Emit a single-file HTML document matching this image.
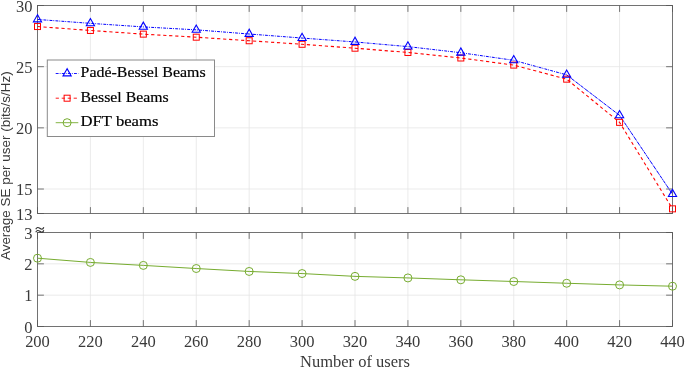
<!DOCTYPE html><html><head><meta charset="utf-8"><style>html,body{margin:0;padding:0;background:#fff;}svg{display:block;will-change:transform}</style></head><body>
<svg width="685" height="367" viewBox="0 0 685 367">
<rect width="685" height="367" fill="#fff"/>
<line x1="37.50" y1="5.5" x2="37.50" y2="213.5" stroke="#e6e6e6" stroke-width="0.8"/>
<line x1="90.42" y1="5.5" x2="90.42" y2="213.5" stroke="#e6e6e6" stroke-width="0.8"/>
<line x1="143.33" y1="5.5" x2="143.33" y2="213.5" stroke="#e6e6e6" stroke-width="0.8"/>
<line x1="196.25" y1="5.5" x2="196.25" y2="213.5" stroke="#e6e6e6" stroke-width="0.8"/>
<line x1="249.17" y1="5.5" x2="249.17" y2="213.5" stroke="#e6e6e6" stroke-width="0.8"/>
<line x1="302.08" y1="5.5" x2="302.08" y2="213.5" stroke="#e6e6e6" stroke-width="0.8"/>
<line x1="355.00" y1="5.5" x2="355.00" y2="213.5" stroke="#e6e6e6" stroke-width="0.8"/>
<line x1="407.92" y1="5.5" x2="407.92" y2="213.5" stroke="#e6e6e6" stroke-width="0.8"/>
<line x1="460.83" y1="5.5" x2="460.83" y2="213.5" stroke="#e6e6e6" stroke-width="0.8"/>
<line x1="513.75" y1="5.5" x2="513.75" y2="213.5" stroke="#e6e6e6" stroke-width="0.8"/>
<line x1="566.67" y1="5.5" x2="566.67" y2="213.5" stroke="#e6e6e6" stroke-width="0.8"/>
<line x1="619.58" y1="5.5" x2="619.58" y2="213.5" stroke="#e6e6e6" stroke-width="0.8"/>
<line x1="672.50" y1="5.5" x2="672.50" y2="213.5" stroke="#e6e6e6" stroke-width="0.8"/>
<line x1="37.5" y1="5.50" x2="672.5" y2="5.50" stroke="#e6e6e6" stroke-width="0.8"/>
<line x1="37.5" y1="66.68" x2="672.5" y2="66.68" stroke="#e6e6e6" stroke-width="0.8"/>
<line x1="37.5" y1="127.85" x2="672.5" y2="127.85" stroke="#e6e6e6" stroke-width="0.8"/>
<line x1="37.5" y1="189.03" x2="672.5" y2="189.03" stroke="#e6e6e6" stroke-width="0.8"/>
<line x1="37.5" y1="213.50" x2="672.5" y2="213.50" stroke="#e6e6e6" stroke-width="0.8"/>
<line x1="37.50" y1="232.5" x2="37.50" y2="326.5" stroke="#e6e6e6" stroke-width="0.8"/>
<line x1="90.42" y1="232.5" x2="90.42" y2="326.5" stroke="#e6e6e6" stroke-width="0.8"/>
<line x1="143.33" y1="232.5" x2="143.33" y2="326.5" stroke="#e6e6e6" stroke-width="0.8"/>
<line x1="196.25" y1="232.5" x2="196.25" y2="326.5" stroke="#e6e6e6" stroke-width="0.8"/>
<line x1="249.17" y1="232.5" x2="249.17" y2="326.5" stroke="#e6e6e6" stroke-width="0.8"/>
<line x1="302.08" y1="232.5" x2="302.08" y2="326.5" stroke="#e6e6e6" stroke-width="0.8"/>
<line x1="355.00" y1="232.5" x2="355.00" y2="326.5" stroke="#e6e6e6" stroke-width="0.8"/>
<line x1="407.92" y1="232.5" x2="407.92" y2="326.5" stroke="#e6e6e6" stroke-width="0.8"/>
<line x1="460.83" y1="232.5" x2="460.83" y2="326.5" stroke="#e6e6e6" stroke-width="0.8"/>
<line x1="513.75" y1="232.5" x2="513.75" y2="326.5" stroke="#e6e6e6" stroke-width="0.8"/>
<line x1="566.67" y1="232.5" x2="566.67" y2="326.5" stroke="#e6e6e6" stroke-width="0.8"/>
<line x1="619.58" y1="232.5" x2="619.58" y2="326.5" stroke="#e6e6e6" stroke-width="0.8"/>
<line x1="672.50" y1="232.5" x2="672.50" y2="326.5" stroke="#e6e6e6" stroke-width="0.8"/>
<line x1="37.5" y1="326.50" x2="672.5" y2="326.50" stroke="#e6e6e6" stroke-width="0.8"/>
<line x1="37.5" y1="295.17" x2="672.5" y2="295.17" stroke="#e6e6e6" stroke-width="0.8"/>
<line x1="37.5" y1="263.83" x2="672.5" y2="263.83" stroke="#e6e6e6" stroke-width="0.8"/>
<line x1="37.5" y1="232.50" x2="672.5" y2="232.50" stroke="#e6e6e6" stroke-width="0.8"/>
<line x1="37.50" y1="5.5" x2="37.50" y2="11.9" stroke="#555555" stroke-width="0.8"/>
<line x1="37.50" y1="213.5" x2="37.50" y2="207.1" stroke="#555555" stroke-width="0.8"/>
<line x1="90.42" y1="5.5" x2="90.42" y2="11.9" stroke="#555555" stroke-width="0.8"/>
<line x1="90.42" y1="213.5" x2="90.42" y2="207.1" stroke="#555555" stroke-width="0.8"/>
<line x1="143.33" y1="5.5" x2="143.33" y2="11.9" stroke="#555555" stroke-width="0.8"/>
<line x1="143.33" y1="213.5" x2="143.33" y2="207.1" stroke="#555555" stroke-width="0.8"/>
<line x1="196.25" y1="5.5" x2="196.25" y2="11.9" stroke="#555555" stroke-width="0.8"/>
<line x1="196.25" y1="213.5" x2="196.25" y2="207.1" stroke="#555555" stroke-width="0.8"/>
<line x1="249.17" y1="5.5" x2="249.17" y2="11.9" stroke="#555555" stroke-width="0.8"/>
<line x1="249.17" y1="213.5" x2="249.17" y2="207.1" stroke="#555555" stroke-width="0.8"/>
<line x1="302.08" y1="5.5" x2="302.08" y2="11.9" stroke="#555555" stroke-width="0.8"/>
<line x1="302.08" y1="213.5" x2="302.08" y2="207.1" stroke="#555555" stroke-width="0.8"/>
<line x1="355.00" y1="5.5" x2="355.00" y2="11.9" stroke="#555555" stroke-width="0.8"/>
<line x1="355.00" y1="213.5" x2="355.00" y2="207.1" stroke="#555555" stroke-width="0.8"/>
<line x1="407.92" y1="5.5" x2="407.92" y2="11.9" stroke="#555555" stroke-width="0.8"/>
<line x1="407.92" y1="213.5" x2="407.92" y2="207.1" stroke="#555555" stroke-width="0.8"/>
<line x1="460.83" y1="5.5" x2="460.83" y2="11.9" stroke="#555555" stroke-width="0.8"/>
<line x1="460.83" y1="213.5" x2="460.83" y2="207.1" stroke="#555555" stroke-width="0.8"/>
<line x1="513.75" y1="5.5" x2="513.75" y2="11.9" stroke="#555555" stroke-width="0.8"/>
<line x1="513.75" y1="213.5" x2="513.75" y2="207.1" stroke="#555555" stroke-width="0.8"/>
<line x1="566.67" y1="5.5" x2="566.67" y2="11.9" stroke="#555555" stroke-width="0.8"/>
<line x1="566.67" y1="213.5" x2="566.67" y2="207.1" stroke="#555555" stroke-width="0.8"/>
<line x1="619.58" y1="5.5" x2="619.58" y2="11.9" stroke="#555555" stroke-width="0.8"/>
<line x1="619.58" y1="213.5" x2="619.58" y2="207.1" stroke="#555555" stroke-width="0.8"/>
<line x1="672.50" y1="5.5" x2="672.50" y2="11.9" stroke="#555555" stroke-width="0.8"/>
<line x1="672.50" y1="213.5" x2="672.50" y2="207.1" stroke="#555555" stroke-width="0.8"/>
<line x1="37.5" y1="5.50" x2="43.9" y2="5.50" stroke="#555555" stroke-width="0.8"/>
<line x1="672.5" y1="5.50" x2="666.1" y2="5.50" stroke="#555555" stroke-width="0.8"/>
<line x1="37.5" y1="66.68" x2="43.9" y2="66.68" stroke="#555555" stroke-width="0.8"/>
<line x1="672.5" y1="66.68" x2="666.1" y2="66.68" stroke="#555555" stroke-width="0.8"/>
<line x1="37.5" y1="127.85" x2="43.9" y2="127.85" stroke="#555555" stroke-width="0.8"/>
<line x1="672.5" y1="127.85" x2="666.1" y2="127.85" stroke="#555555" stroke-width="0.8"/>
<line x1="37.5" y1="189.03" x2="43.9" y2="189.03" stroke="#555555" stroke-width="0.8"/>
<line x1="672.5" y1="189.03" x2="666.1" y2="189.03" stroke="#555555" stroke-width="0.8"/>
<line x1="37.5" y1="213.50" x2="43.9" y2="213.50" stroke="#555555" stroke-width="0.8"/>
<line x1="672.5" y1="213.50" x2="666.1" y2="213.50" stroke="#555555" stroke-width="0.8"/>
<rect x="37.5" y="5.5" width="635.00" height="208.00" fill="none" stroke="#555555" stroke-width="0.8"/>
<line x1="37.50" y1="232.5" x2="37.50" y2="238.9" stroke="#555555" stroke-width="0.8"/>
<line x1="37.50" y1="326.5" x2="37.50" y2="320.1" stroke="#555555" stroke-width="0.8"/>
<line x1="90.42" y1="232.5" x2="90.42" y2="238.9" stroke="#555555" stroke-width="0.8"/>
<line x1="90.42" y1="326.5" x2="90.42" y2="320.1" stroke="#555555" stroke-width="0.8"/>
<line x1="143.33" y1="232.5" x2="143.33" y2="238.9" stroke="#555555" stroke-width="0.8"/>
<line x1="143.33" y1="326.5" x2="143.33" y2="320.1" stroke="#555555" stroke-width="0.8"/>
<line x1="196.25" y1="232.5" x2="196.25" y2="238.9" stroke="#555555" stroke-width="0.8"/>
<line x1="196.25" y1="326.5" x2="196.25" y2="320.1" stroke="#555555" stroke-width="0.8"/>
<line x1="249.17" y1="232.5" x2="249.17" y2="238.9" stroke="#555555" stroke-width="0.8"/>
<line x1="249.17" y1="326.5" x2="249.17" y2="320.1" stroke="#555555" stroke-width="0.8"/>
<line x1="302.08" y1="232.5" x2="302.08" y2="238.9" stroke="#555555" stroke-width="0.8"/>
<line x1="302.08" y1="326.5" x2="302.08" y2="320.1" stroke="#555555" stroke-width="0.8"/>
<line x1="355.00" y1="232.5" x2="355.00" y2="238.9" stroke="#555555" stroke-width="0.8"/>
<line x1="355.00" y1="326.5" x2="355.00" y2="320.1" stroke="#555555" stroke-width="0.8"/>
<line x1="407.92" y1="232.5" x2="407.92" y2="238.9" stroke="#555555" stroke-width="0.8"/>
<line x1="407.92" y1="326.5" x2="407.92" y2="320.1" stroke="#555555" stroke-width="0.8"/>
<line x1="460.83" y1="232.5" x2="460.83" y2="238.9" stroke="#555555" stroke-width="0.8"/>
<line x1="460.83" y1="326.5" x2="460.83" y2="320.1" stroke="#555555" stroke-width="0.8"/>
<line x1="513.75" y1="232.5" x2="513.75" y2="238.9" stroke="#555555" stroke-width="0.8"/>
<line x1="513.75" y1="326.5" x2="513.75" y2="320.1" stroke="#555555" stroke-width="0.8"/>
<line x1="566.67" y1="232.5" x2="566.67" y2="238.9" stroke="#555555" stroke-width="0.8"/>
<line x1="566.67" y1="326.5" x2="566.67" y2="320.1" stroke="#555555" stroke-width="0.8"/>
<line x1="619.58" y1="232.5" x2="619.58" y2="238.9" stroke="#555555" stroke-width="0.8"/>
<line x1="619.58" y1="326.5" x2="619.58" y2="320.1" stroke="#555555" stroke-width="0.8"/>
<line x1="672.50" y1="232.5" x2="672.50" y2="238.9" stroke="#555555" stroke-width="0.8"/>
<line x1="672.50" y1="326.5" x2="672.50" y2="320.1" stroke="#555555" stroke-width="0.8"/>
<line x1="37.5" y1="326.50" x2="43.9" y2="326.50" stroke="#555555" stroke-width="0.8"/>
<line x1="672.5" y1="326.50" x2="666.1" y2="326.50" stroke="#555555" stroke-width="0.8"/>
<line x1="37.5" y1="295.17" x2="43.9" y2="295.17" stroke="#555555" stroke-width="0.8"/>
<line x1="672.5" y1="295.17" x2="666.1" y2="295.17" stroke="#555555" stroke-width="0.8"/>
<line x1="37.5" y1="263.83" x2="43.9" y2="263.83" stroke="#555555" stroke-width="0.8"/>
<line x1="672.5" y1="263.83" x2="666.1" y2="263.83" stroke="#555555" stroke-width="0.8"/>
<line x1="37.5" y1="232.50" x2="43.9" y2="232.50" stroke="#555555" stroke-width="0.8"/>
<line x1="672.5" y1="232.50" x2="666.1" y2="232.50" stroke="#555555" stroke-width="0.8"/>
<rect x="37.5" y="232.5" width="635.00" height="94.00" fill="none" stroke="#555555" stroke-width="0.8"/>
<polyline points="37.50,26.54 90.42,30.46 143.33,34.13 196.25,37.19 249.17,40.74 302.08,44.29 355.00,48.20 407.92,52.48 460.83,57.99 513.75,65.09 566.67,79.16 619.58,122.35 672.50,208.85" fill="none" stroke="#ff0000" stroke-width="1.1" stroke-dasharray="3.2,2.8"/>
<polyline points="37.50,19.45 90.42,23.36 143.33,26.91 196.25,29.85 249.17,34.01 302.08,38.05 355.00,41.96 407.92,46.61 460.83,52.73 513.75,60.31 566.67,74.87" fill="none" stroke="#0000ff" stroke-width="1.0" stroke-dasharray="2.9,1.0,0.9,1.2"/>
<polyline points="566.67,74.87 619.58,115.37 672.50,194.17" fill="none" stroke="#0000ff" stroke-width="1.0" stroke-dasharray="3.6,0.6,1.0,0.6"/>
<polyline points="37.50,258.19 90.42,262.42 143.33,265.40 196.25,268.53 249.17,271.45 302.08,273.55 355.00,276.37 407.92,277.93 460.83,279.81 513.75,281.51 566.67,283.26 619.58,284.92 672.50,286.21" fill="none" stroke="#77ac30" stroke-width="1.0" stroke-dasharray="none"/>
<rect x="34.50" y="23.54" width="6.0" height="6.0" fill="none" stroke="#ff0000" stroke-width="1.0"/>
<rect x="87.42" y="27.46" width="6.0" height="6.0" fill="none" stroke="#ff0000" stroke-width="1.0"/>
<rect x="140.33" y="31.13" width="6.0" height="6.0" fill="none" stroke="#ff0000" stroke-width="1.0"/>
<rect x="193.25" y="34.19" width="6.0" height="6.0" fill="none" stroke="#ff0000" stroke-width="1.0"/>
<rect x="246.17" y="37.74" width="6.0" height="6.0" fill="none" stroke="#ff0000" stroke-width="1.0"/>
<rect x="299.08" y="41.29" width="6.0" height="6.0" fill="none" stroke="#ff0000" stroke-width="1.0"/>
<rect x="352.00" y="45.20" width="6.0" height="6.0" fill="none" stroke="#ff0000" stroke-width="1.0"/>
<rect x="404.92" y="49.48" width="6.0" height="6.0" fill="none" stroke="#ff0000" stroke-width="1.0"/>
<rect x="457.83" y="54.99" width="6.0" height="6.0" fill="none" stroke="#ff0000" stroke-width="1.0"/>
<rect x="510.75" y="62.09" width="6.0" height="6.0" fill="none" stroke="#ff0000" stroke-width="1.0"/>
<rect x="563.67" y="76.16" width="6.0" height="6.0" fill="none" stroke="#ff0000" stroke-width="1.0"/>
<rect x="616.58" y="119.35" width="6.0" height="6.0" fill="none" stroke="#ff0000" stroke-width="1.0"/>
<rect x="669.50" y="205.85" width="6.0" height="6.0" fill="none" stroke="#ff0000" stroke-width="1.0"/>
<polygon points="37.50,14.65 33.40,21.85 41.60,21.85" fill="none" stroke="#0000ff" stroke-width="1.1" stroke-linejoin="miter"/>
<polygon points="90.42,18.56 86.32,25.76 94.52,25.76" fill="none" stroke="#0000ff" stroke-width="1.1" stroke-linejoin="miter"/>
<polygon points="143.33,22.11 139.23,29.31 147.43,29.31" fill="none" stroke="#0000ff" stroke-width="1.1" stroke-linejoin="miter"/>
<polygon points="196.25,25.05 192.15,32.25 200.35,32.25" fill="none" stroke="#0000ff" stroke-width="1.1" stroke-linejoin="miter"/>
<polygon points="249.17,29.21 245.07,36.41 253.27,36.41" fill="none" stroke="#0000ff" stroke-width="1.1" stroke-linejoin="miter"/>
<polygon points="302.08,33.25 297.98,40.45 306.18,40.45" fill="none" stroke="#0000ff" stroke-width="1.1" stroke-linejoin="miter"/>
<polygon points="355.00,37.16 350.90,44.36 359.10,44.36" fill="none" stroke="#0000ff" stroke-width="1.1" stroke-linejoin="miter"/>
<polygon points="407.92,41.81 403.82,49.01 412.02,49.01" fill="none" stroke="#0000ff" stroke-width="1.1" stroke-linejoin="miter"/>
<polygon points="460.83,47.93 456.73,55.13 464.93,55.13" fill="none" stroke="#0000ff" stroke-width="1.1" stroke-linejoin="miter"/>
<polygon points="513.75,55.51 509.65,62.71 517.85,62.71" fill="none" stroke="#0000ff" stroke-width="1.1" stroke-linejoin="miter"/>
<polygon points="566.67,70.07 562.57,77.27 570.77,77.27" fill="none" stroke="#0000ff" stroke-width="1.1" stroke-linejoin="miter"/>
<polygon points="619.58,110.57 615.48,117.77 623.68,117.77" fill="none" stroke="#0000ff" stroke-width="1.1" stroke-linejoin="miter"/>
<polygon points="672.50,189.37 668.40,196.57 676.60,196.57" fill="none" stroke="#0000ff" stroke-width="1.1" stroke-linejoin="miter"/>
<circle cx="37.50" cy="258.19" r="4.0" fill="none" stroke="#77ac30" stroke-width="1.0"/>
<circle cx="90.42" cy="262.42" r="4.0" fill="none" stroke="#77ac30" stroke-width="1.0"/>
<circle cx="143.33" cy="265.40" r="4.0" fill="none" stroke="#77ac30" stroke-width="1.0"/>
<circle cx="196.25" cy="268.53" r="4.0" fill="none" stroke="#77ac30" stroke-width="1.0"/>
<circle cx="249.17" cy="271.45" r="4.0" fill="none" stroke="#77ac30" stroke-width="1.0"/>
<circle cx="302.08" cy="273.55" r="4.0" fill="none" stroke="#77ac30" stroke-width="1.0"/>
<circle cx="355.00" cy="276.37" r="4.0" fill="none" stroke="#77ac30" stroke-width="1.0"/>
<circle cx="407.92" cy="277.93" r="4.0" fill="none" stroke="#77ac30" stroke-width="1.0"/>
<circle cx="460.83" cy="279.81" r="4.0" fill="none" stroke="#77ac30" stroke-width="1.0"/>
<circle cx="513.75" cy="281.51" r="4.0" fill="none" stroke="#77ac30" stroke-width="1.0"/>
<circle cx="566.67" cy="283.26" r="4.0" fill="none" stroke="#77ac30" stroke-width="1.0"/>
<circle cx="619.58" cy="284.92" r="4.0" fill="none" stroke="#77ac30" stroke-width="1.0"/>
<circle cx="672.50" cy="286.21" r="4.0" fill="none" stroke="#77ac30" stroke-width="1.0"/>
<text transform="translate(32.50,11.60) scale(1,1.07)" x="0" y="0" font-family="Liberation Serif" font-size="16.5" fill="#3a3a3a" text-anchor="end" >30</text>
<text transform="translate(32.50,72.78) scale(1,1.07)" x="0" y="0" font-family="Liberation Serif" font-size="16.5" fill="#3a3a3a" text-anchor="end" >25</text>
<text transform="translate(32.50,133.95) scale(1,1.07)" x="0" y="0" font-family="Liberation Serif" font-size="16.5" fill="#3a3a3a" text-anchor="end" >20</text>
<text transform="translate(32.50,195.13) scale(1,1.07)" x="0" y="0" font-family="Liberation Serif" font-size="16.5" fill="#3a3a3a" text-anchor="end" >15</text>
<text transform="translate(32.50,220.20) scale(1,1.07)" x="0" y="0" font-family="Liberation Serif" font-size="16.5" fill="#3a3a3a" text-anchor="end" >13</text>
<text transform="translate(32.50,332.60) scale(1,1.07)" x="0" y="0" font-family="Liberation Serif" font-size="16.5" fill="#3a3a3a" text-anchor="end" >0</text>
<text transform="translate(32.50,301.27) scale(1,1.07)" x="0" y="0" font-family="Liberation Serif" font-size="16.5" fill="#3a3a3a" text-anchor="end" >1</text>
<text transform="translate(32.50,269.93) scale(1,1.07)" x="0" y="0" font-family="Liberation Serif" font-size="16.5" fill="#3a3a3a" text-anchor="end" >2</text>
<text transform="translate(32.50,238.60) scale(1,1.07)" x="0" y="0" font-family="Liberation Serif" font-size="16.5" fill="#3a3a3a" text-anchor="end" >3</text>
<text transform="translate(37.50,347.40) scale(1,1.07)" x="0" y="0" font-family="Liberation Serif" font-size="16.5" fill="#3a3a3a" text-anchor="middle" >200</text>
<text transform="translate(90.42,347.40) scale(1,1.07)" x="0" y="0" font-family="Liberation Serif" font-size="16.5" fill="#3a3a3a" text-anchor="middle" >220</text>
<text transform="translate(143.33,347.40) scale(1,1.07)" x="0" y="0" font-family="Liberation Serif" font-size="16.5" fill="#3a3a3a" text-anchor="middle" >240</text>
<text transform="translate(196.25,347.40) scale(1,1.07)" x="0" y="0" font-family="Liberation Serif" font-size="16.5" fill="#3a3a3a" text-anchor="middle" >260</text>
<text transform="translate(249.17,347.40) scale(1,1.07)" x="0" y="0" font-family="Liberation Serif" font-size="16.5" fill="#3a3a3a" text-anchor="middle" >280</text>
<text transform="translate(302.08,347.40) scale(1,1.07)" x="0" y="0" font-family="Liberation Serif" font-size="16.5" fill="#3a3a3a" text-anchor="middle" >300</text>
<text transform="translate(355.00,347.40) scale(1,1.07)" x="0" y="0" font-family="Liberation Serif" font-size="16.5" fill="#3a3a3a" text-anchor="middle" >320</text>
<text transform="translate(407.92,347.40) scale(1,1.07)" x="0" y="0" font-family="Liberation Serif" font-size="16.5" fill="#3a3a3a" text-anchor="middle" >340</text>
<text transform="translate(460.83,347.40) scale(1,1.07)" x="0" y="0" font-family="Liberation Serif" font-size="16.5" fill="#3a3a3a" text-anchor="middle" >360</text>
<text transform="translate(513.75,347.40) scale(1,1.07)" x="0" y="0" font-family="Liberation Serif" font-size="16.5" fill="#3a3a3a" text-anchor="middle" >380</text>
<text transform="translate(566.67,347.40) scale(1,1.07)" x="0" y="0" font-family="Liberation Serif" font-size="16.5" fill="#3a3a3a" text-anchor="middle" >400</text>
<text transform="translate(619.58,347.40) scale(1,1.07)" x="0" y="0" font-family="Liberation Serif" font-size="16.5" fill="#3a3a3a" text-anchor="middle" >420</text>
<text transform="translate(672.50,347.40) scale(1,1.07)" x="0" y="0" font-family="Liberation Serif" font-size="16.5" fill="#3a3a3a" text-anchor="middle" >440</text>
<text transform="translate(355.00,366.70) scale(1,1.04)" x="0" y="0" font-family="Liberation Serif" font-size="16.5" fill="#3a3a3a" text-anchor="middle" >Number of users</text>
<text x="0" y="0" transform="translate(9.7,165.7) rotate(-90)" font-family="Liberation Sans" font-size="13.45" fill="#3a3a3a" text-anchor="middle">Average SE per user (bits/s/Hz)</text>
<rect x="35" y="225" width="10" height="7" fill="#fff"/>
<path d="M35.8,229.3 C36.6,226.9 38.4,227.2 39.8,228.3 S42.9,230.0 43.8,227.3 M35.8,232.3 C36.6,229.9 38.4,230.2 39.8,231.3 S42.9,233.0 43.8,230.3" fill="none" stroke="#333" stroke-width="1.15"/>
<rect x="47.3" y="60.0" width="167.2" height="76.5" fill="#fff" stroke="#8a8a8a" stroke-width="1"/>
<line x1="55.7" y1="73.5" x2="78.3" y2="73.5" stroke="#0000ff" stroke-width="0.9" stroke-dasharray="2.9,1.1,0.8,1.3"/>
<polygon points="67.10,68.70 63.00,75.90 71.20,75.90" fill="none" stroke="#0000ff" stroke-width="1.1" stroke-linejoin="miter"/>
<line x1="55.7" y1="98.2" x2="78.3" y2="98.2" stroke="#ff0000" stroke-width="0.9" stroke-dasharray="3.2,2.8"/>
<rect x="64.10" y="95.20" width="6.0" height="6.0" fill="none" stroke="#ff0000" stroke-width="1.0"/>
<line x1="55.7" y1="122.7" x2="78.3" y2="122.7" stroke="#77ac30" stroke-width="0.9"/>
<circle cx="67.10" cy="122.70" r="4.0" fill="none" stroke="#77ac30" stroke-width="1.0"/>
<text x="80.6" y="77.3" font-family="Liberation Serif" font-size="15.5" fill="#000" stroke="#000" stroke-width="0.2" textLength="125.0" lengthAdjust="spacingAndGlyphs">Padé-Bessel Beams</text>
<text x="80.6" y="101.5" font-family="Liberation Serif" font-size="15.5" fill="#000" stroke="#000" stroke-width="0.2" textLength="88.0" lengthAdjust="spacingAndGlyphs">Bessel Beams</text>
<text x="80.6" y="125.8" font-family="Liberation Serif" font-size="15.5" fill="#000" stroke="#000" stroke-width="0.2" textLength="77.8" lengthAdjust="spacingAndGlyphs">DFT beams</text>
</svg></body></html>
